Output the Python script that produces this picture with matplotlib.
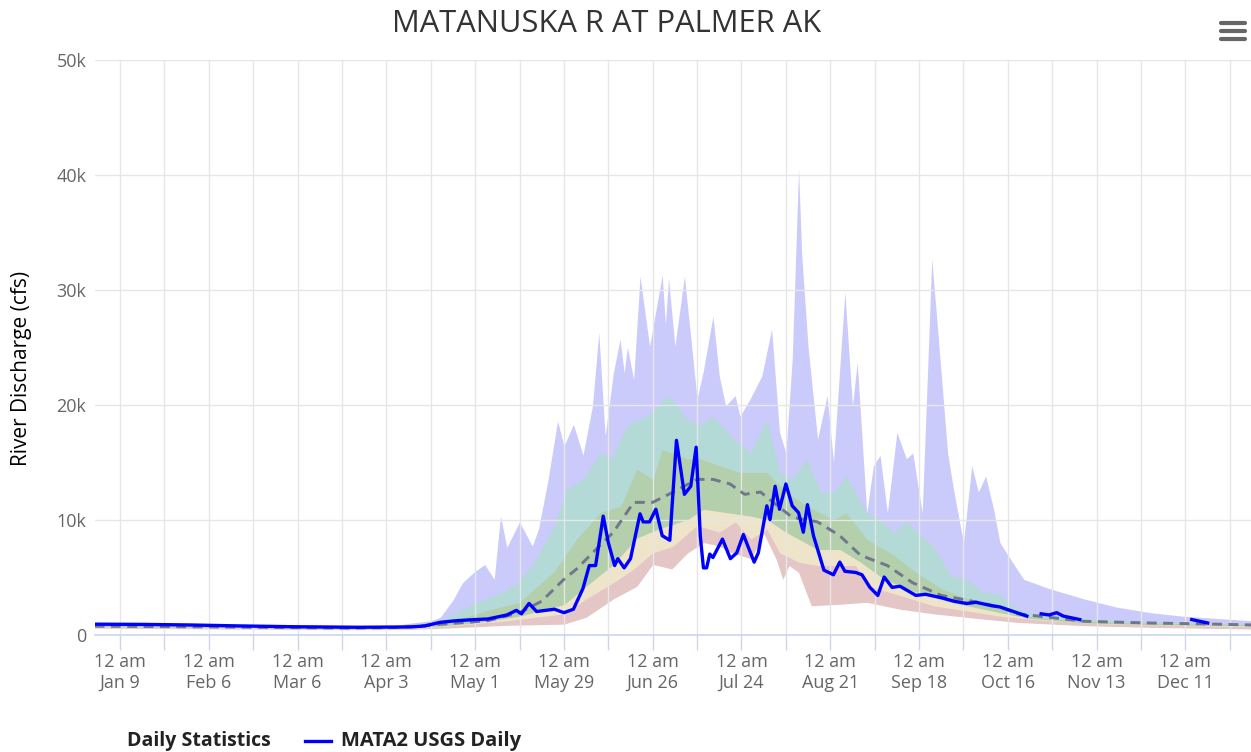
import numpy as np
import matplotlib
matplotlib.use("Agg")
import matplotlib.pyplot as plt
from matplotlib.lines import Line2D

plt.rcParams['font.family'] = ['Open Sans', 'DejaVu Sans']

# ---------------- data (day of year, 0 = Jan 1; values in cfs) ----------------
max_day = [0, 20, 40, 60, 80, 95, 100, 106, 109, 113, 116, 119.5, 123, 126, 128, 130, 134, 138, 140,
           143, 146, 148, 151, 154, 157, 159, 161, 163.6, 165.7, 167, 168, 170, 172, 175, 179, 180,
           181, 183, 186, 190, 192, 195, 197, 199, 202, 203.5, 206.7, 210.4, 213.5, 216, 218, 220,
           222, 223, 225, 228, 231, 233, 236.6, 239, 240.5, 243.5, 245.6, 247.7, 250, 253, 256, 258,
           261, 264, 265.6, 269, 271, 274, 276.6, 278.7, 281, 283.5, 285.5, 288, 293, 301, 312, 322,
           333, 343, 354, 364.7]
max_val = [1000, 950, 850, 750, 700, 800, 1000, 1200, 1500, 3000, 4500, 5400, 6100, 4800, 10300,
           7600, 9800, 7700, 9200, 13500, 18600, 16400, 18300, 15600, 19900, 26300, 17300, 22800,
           25700, 22800, 25000, 22200, 31200, 25100, 31300, 27000, 31000, 25100, 31200, 20500, 23000,
           27700, 22500, 19900, 20800, 19000, 20500, 22500, 26600, 17600, 15800, 24000, 40500, 33000,
           25000, 17000, 20800, 15000, 29800, 19900, 23700, 10600, 14700, 15600, 10600, 17600, 15300,
           15800, 10600, 32700, 27400, 15800, 12400, 8000, 14700, 12400, 13800, 10900, 8000, 6900,
           4800, 4000, 3100, 2400, 1900, 1600, 1400, 1200]

p90_day = [0, 40, 80, 95, 102, 109, 118, 128.6, 133, 138, 145, 149, 154, 159.5, 163, 168, 174, 181,
           187, 191, 195, 201.5, 206.7, 212, 216, 220, 224.5, 229, 233, 237, 243.5, 247.7, 252, 256,
           264.5, 270, 275, 280, 285.5, 288, 293, 307, 322, 343, 364.7]
p90_val = [900, 800, 650, 750, 900, 1200, 2500, 3700, 4400, 6000, 9500, 12700, 13500, 15800, 15300,
           18200, 19000, 20800, 18700, 18200, 19000, 17000, 15800, 18700, 14100, 13500, 15300, 12400,
           12400, 13800, 10600, 10000, 8900, 9800, 7700, 5100, 4800, 3700, 3500, 2800, 2000, 1500,
           1200, 1050, 900]

p75_day = [0, 40, 80, 95, 102, 109, 124, 134, 145, 152, 159.5, 166, 171, 176, 179, 187, 191, 197,
           203.5, 212, 218, 224.5, 233, 237, 243.5, 252, 259, 267, 275, 285.5, 293, 305, 322, 343,
           364.7]
p75_val = [800, 720, 600, 650, 800, 900, 2100, 2800, 5500, 8300, 10600, 11200, 14400, 13500, 16100,
           15300, 15300, 14700, 14100, 14100, 12400, 11200, 10000, 10600, 8300, 6900, 5400, 4000,
           3100, 2400, 1600, 1300, 1050, 950, 850]

median_day = [0, 40, 80, 95, 102.6, 124, 134, 141, 148, 152, 157, 163.6, 170, 176, 182.5, 190, 195,
              200.4, 205, 210, 214, 220, 228, 235, 241.5, 250, 258, 267, 275, 285.5, 291, 301, 312,
              333, 354, 364.7]
median_val = [720, 650, 550, 600, 750, 1200, 1900, 2900, 4800, 5700, 7100, 8900, 11500, 11500, 12400,
              13500, 13500, 13100, 12200, 12400, 11500, 10200, 9800, 8600, 6900, 6000, 4500, 3400,
              3000, 2400, 1800, 1500, 1150, 1000, 900, 830]

p25_day = [0, 40, 80, 95, 105, 120, 134, 148, 155, 163.6, 171, 178, 187, 192, 199.5, 207, 212, 218,
           228, 235, 241.5, 249, 259, 270, 285.5, 295, 312, 333, 364.7]
p25_val = [680, 600, 500, 550, 650, 1000, 1600, 2600, 4200, 6100, 8400, 9200, 10000, 10900, 10600,
           10300, 10000, 8900, 7400, 7400, 6300, 4800, 3700, 2800, 1900, 1400, 1000, 850, 750]

p10_day = [0, 40, 80, 100, 110, 130, 148, 155, 163.6, 170, 176, 182.5, 190, 197, 202, 207, 212, 216,
           222, 228, 240, 244, 254, 264.5, 285.5, 300, 320, 340, 364.7]
p10_val = [620, 550, 470, 500, 700, 1200, 1800, 3100, 4500, 5700, 7100, 7700, 9500, 8900, 9800, 8300,
           9200, 7100, 6300, 6000, 6000, 4200, 3400, 2500, 1600, 1200, 900, 780, 680]

min_day = [0, 40, 80, 100, 110, 130, 148, 155, 163.6, 171, 176, 182, 187, 192, 197, 201, 207, 211,
           215, 217, 219, 222, 226, 233, 243.5, 254, 264.5, 280, 291, 312, 333, 364.7]
min_val = [550, 480, 420, 450, 550, 800, 900, 1500, 3100, 4200, 6100, 5700, 7100, 8000, 7700, 7100,
           6600, 8800, 6500, 4800, 6000, 5400, 2500, 2600, 2800, 2200, 1800, 1350, 1050, 770, 620,
           480]

obs_day = [0, 15, 30, 45, 62, 83, 100, 104, 109, 114, 120, 124, 130, 133, 134.6, 137, 139.4, 145, 148,
           151, 154, 156, 158, 160.4, 162, 164, 165, 167, 169, 172, 173, 175, 177, 179, 181.4, 183.5,
           186, 188, 189.7, 191, 192, 193, 194, 195, 198, 200.5, 202.5, 204.6, 206, 208, 209.3, 212,
           213, 214.6, 216, 218, 220, 222, 223.5, 224.8, 226.7, 230, 233, 235, 236.6, 240, 242,
           244.5, 247, 249, 251.5, 254, 259, 262, 267, 271, 275, 278, 283, 285.5, 288.7, 294,
           296, 298.5, 301, 303.4, 305.5, 310.7, 330, 346, 351]
obs_val = [900, 880, 830, 750, 680, 630, 660, 740, 1060, 1200, 1300, 1350, 1700, 2100, 1800, 2700,
           2000, 2200, 1900, 2200, 4000, 6000, 6000, 10300, 8000, 6000, 6600, 5800, 6600, 10500, 9800,
           9800, 10900, 8600, 8200, 16900, 12200, 12900, 16300, 8600, 5800, 5800, 7000, 6700, 8300,
           6600, 7100, 8700, 7700, 6300, 7100, 11200, 10000, 12900, 10900, 13100, 11200, 10600, 8900,
           11300, 8600, 5600, 5200, 6300, 5500, 5400, 5200, 4100, 3400, 5000, 4100, 4200, 3400, 3500,
           3200, 2900, 2700, 2800, 2500, 2400, 2100, 1600, np.nan, 1800, 1700, 1900, 1600, 1300,
           np.nan, 1300, 1000]

xtick_days = [8, 36, 64, 92, 120, 148, 176, 204, 232, 260, 288, 316, 344]
xtick_dates = ["Jan 9", "Feb 6", "Mar 6", "Apr 3", "May 1", "May 29", "Jun 26", "Jul 24",
               "Aug 21", "Sep 18", "Oct 16", "Nov 13", "Dec 11"]
ytick_vals = [0, 10000, 20000, 30000, 40000, 50000]
ytick_labels = ["0", "10k", "20k", "30k", "40k", "50k"]

# ---------------- figure ----------------
W, H = 1251, 752
fig = plt.figure(figsize=(W / 100, H / 100), dpi=100)
L, R, T, B = 94.6, 1251, 60, 634.5
ax = fig.add_axes([L / W, (H - B) / H, (R - L) / W, (B - T) / H])

c_max = '#cbcbfb'
c_p90 = '#b3dad6'
c_p75 = '#b4cfab'
c_p25 = '#eee4c9'
c_p10 = '#e4c6c6'

ax.fill_between(max_day, max_val, 0, color=c_max, lw=0, zorder=0.5)
ax.fill_between(p90_day, p90_val, 0, color=c_p90, lw=0, zorder=0.6)
ax.fill_between(p75_day, p75_val, 0, color=c_p75, lw=0, zorder=0.7)
ax.fill_between(p25_day, p25_val, 0, color=c_p25, lw=0, zorder=0.8)
ax.fill_between(p10_day, p10_val, 0, color=c_p10, lw=0, zorder=0.9)
ax.fill_between(min_day, min_val, 0, color='white', lw=0, zorder=1.0)

ax.plot(median_day, median_val, color='#70768c', lw=2.1, ls=(0, (3.4, 2.2)), zorder=3)
ax.plot(obs_day, obs_val, color='#0000ff', lw=2.4, zorder=4, solid_joinstyle='round')

ax.set_xlim(0, (R - L) / 3.171)
ax.set_ylim(0, 50000)

# grid
ax.set_axisbelow('line')
minor = [d + 14 for d in xtick_days]
ax.set_xticks(xtick_days)
ax.set_xticks(minor, minor=True)
ax.set_xticklabels(["12 am\n" + s for s in xtick_dates])
ax.grid(True, which='both', axis='x', color='#e6e6e6', lw=1)
ax.set_yticks(ytick_vals)
ax.set_yticklabels(ytick_labels)
ax.grid(True, which='major', axis='y', color='#e6e6e6', lw=1)

for s in ['top', 'right', 'left']:
    ax.spines[s].set_visible(False)
ax.spines['bottom'].set_color('#ccd6eb')
ax.spines['bottom'].set_linewidth(1.2)
ax.tick_params(axis='x', which='both', length=11, color='#ccd6eb', width=1,
               labelsize=13, labelcolor='#666666', pad=2)
ax.tick_params(axis='y', length=0, labelsize=13, labelcolor='#666666', pad=6)
for lbl in ax.get_xticklabels():
    lbl.set_linespacing(1.25)

# y axis title
fig.text(22 / W, 1 - 368 / H, "River Discharge (cfs)", rotation=90, ha='center', va='center',
         fontsize=15, color='#000000')

# title
fig.text(607 / W, 1 - 24 / H, "MATANUSKA R AT PALMER AK", ha='center', va='center',
         fontsize=22.2, color='#333333')

# menu icon
for yy in [23, 31, 39]:
    fig.add_artist(Line2D([1221 / W, 1245 / W], [1 - yy / H, 1 - yy / H], color='#666666',
                          lw=3, solid_capstyle='round'))

# legend
fig.text(127 / W, 1 - 741 / H, "Daily Statistics", ha='left', va='center', fontsize=14,
         fontweight='bold', color='#222222')
fig.add_artist(Line2D([305 / W, 331 / W], [1 - 741 / H, 1 - 741 / H], color='#0000ff', lw=2.4))
fig.text(341 / W, 1 - 741 / H, "MATA2 USGS Daily", ha='left', va='center', fontsize=14.5,
         fontweight='bold', color='#222222')

fig.savefig("out.png", dpi=100)
